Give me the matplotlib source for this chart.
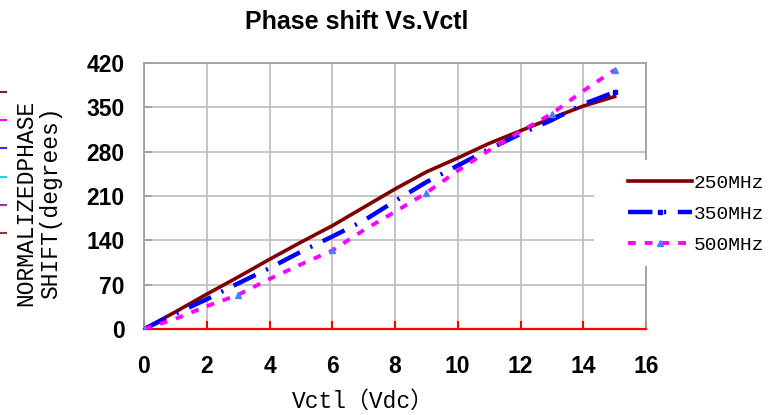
import matplotlib
matplotlib.use("Agg")
import matplotlib.pyplot as plt
from matplotlib.patches import Rectangle
from matplotlib.lines import Line2D

vctl = [0, 1, 2, 3, 4, 5, 6, 7, 8, 9, 10, 11, 12, 13, 14, 15]
phase_250 = [0, 27, 55, 82, 110, 137, 163, 192, 221, 248, 270, 293, 313, 333, 352, 367]
phase_350 = [0, 24, 47, 72, 96, 122, 146, 171, 202, 232, 258, 284, 308, 330, 355, 374]
phase_500 = [0, 16, 36, 54, 79, 102, 124, 156, 185, 215, 250, 282, 312, 340, 376, 409]
series_labels = ["250MHz", "350MHz", "500MHz"]
x_ticks = [0, 2, 4, 6, 8, 10, 12, 14, 16]
y_ticks = [0, 70, 140, 210, 280, 350, 420]
title = "Phase shift Vs.Vctl"
x_label = "Vctl\uff08Vdc\uff09"
y_label = "NORMALIZEDPHASE\nSHIFT(degrees)"

W, H = 769, 415
fig = plt.figure(figsize=(W / 100, H / 100), dpi=100)
ax = fig.add_axes([144 / W, 1 - 329 / H, (646 - 144) / W, (329 - 63) / H])

mono = ["Liberation Mono", "Noto Sans CJK SC"]
boldsans = "Liberation Sans"

ax.plot(vctl, phase_250, color="#7F0000", lw=2.6, label=series_labels[0], zorder=3)
ax.plot(vctl, phase_350, color="#0000FF", lw=3.2, dashes=(5.5, 2.6, 0.5, 2.6),
        marker="s", markersize=2.5, markevery=[0, 15], label=series_labels[1], zorder=4)
ax.plot(vctl, phase_500, color="#FF00FF", lw=2.8, dashes=(2, 2.3),
        marker="^", markersize=5, markerfacecolor="#4A7FFF", markeredgecolor="#4A7FFF",
        markevery=[0, 3, 6, 9, 13, 15], label=series_labels[2], zorder=4)

ax.set_xlim(0, 16)
ax.set_ylim(0, 420)
ax.set_xticks(x_ticks)
ax.set_yticks(y_ticks)
ax.grid(True, color="#C0C0C0", lw=1.3)
ax.set_axisbelow(True)
for s in ["top", "right", "left"]:
    ax.spines[s].set_color("#A0A0A0")
    ax.spines[s].set_linewidth(1.3)
ax.spines["bottom"].set_color("#FF0000")
ax.spines["bottom"].set_linewidth(1.6)
ax.tick_params(axis="x", direction="in", length=6, width=1.5, color="#FF0000", pad=19)
ax.tick_params(axis="y", direction="in", length=6, width=1.3, color="#A0A0A0", pad=14)
for lab in ax.get_xticklabels() + ax.get_yticklabels():
    lab.set_fontfamily(boldsans)
    lab.set_fontweight("bold")
    lab.set_fontsize(16.5)

fig.text(357 / W, 1 - 22 / H, title, ha="center", va="center",
         fontfamily=boldsans, fontweight="bold", fontsize=18)
fig.text(363 / W, 1 - 401 / H, x_label, ha="center", va="center",
         fontfamily=mono, fontsize=16.5)
fig.text(38 / W, 1 - 203 / H, y_label, ha="center", va="center", rotation=90,
         fontfamily=mono, fontsize=16.5, linespacing=1.1, multialignment="center")

# legend area
fig.add_artist(Rectangle((594 / W, 1 - 266 / H), (W - 594) / W, (266 - 160) / H,
                         transform=fig.transFigure, facecolor="white",
                         edgecolor="none", zorder=2))
leg = fig.legend(loc="center left", bbox_to_anchor=(610 / W, 1 - 214 / H),
                 frameon=False, prop={"family": mono, "size": 14},
                 handlelength=3.3, handletextpad=0.1, labelspacing=0.7)
leg.set_zorder(5)

# small legend remnants at left edge
rem_y = [92, 120, 148, 177, 205, 233]
rem_c = ["#8B1A1A", "#FF00FF", "#3030FF", "#00E0E0", "#993399", "#993333"]
for yy, cc in zip(rem_y, rem_c):
    fig.add_artist(Line2D([0, 6 / W], [1 - yy / H, 1 - yy / H], transform=fig.transFigure,
                          color=cc, lw=1.5))

fig.savefig("out.png", dpi=100)
